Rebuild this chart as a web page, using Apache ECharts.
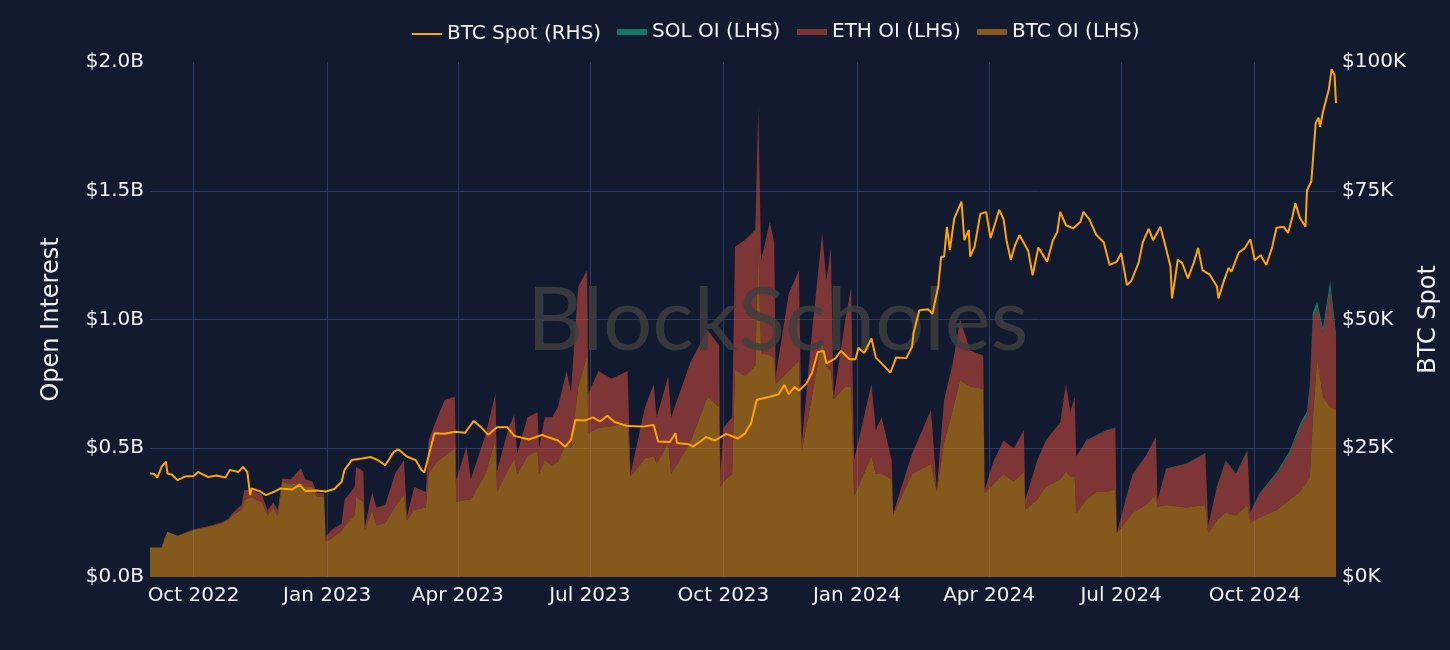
<!DOCTYPE html>
<html>
<head>
<meta charset="utf-8">
<script src="https://cdn.jsdelivr.net/npm/echarts@6/dist/echarts.min.js"></script>
<style>
html,body{margin:0;padding:0;background:#111a2e;}
#chart{width:1450px;height:650px;}
</style>
</head>
<body>
<div id="chart"></div>
<script>
// ---------- DATA ----------
const startDate = '2022-09-01';            // day 0 of the day-offset arrays
const xTickDates = ['2022-10-01','2023-01-01','2023-04-01','2023-07-01','2023-10-01','2024-01-01','2024-04-01','2024-07-01','2024-10-01'];
const xTickLabels = ['Oct 2022','Jan 2023','Apr 2023','Jul 2023','Oct 2023','Jan 2024','Apr 2024','Jul 2024','Oct 2024'];

// Open interest (USD billions), by day offset from startDate
const oiDays = [0,8,10,12,19,26,30,42,49,54,57,63,65,70,77,81,85,88,91,97,104,107,112,115,120,121,125,132,134,141,142,147,148,153,156,162,169,175,177,182,190,192,198,203,210,211,218,221,231,238,239,247,251,253,260,267,268,272,277,281,287,290,295,301,302,309,318,329,331,341,347,349,357,359,372,384,392,393,395,401,403,410,417,419,421,427,430,431,440,447,449,456,463,466,469,471,479,483,485,497,500,504,511,512,525,538,542,547,553,558,565,574,575,581,588,595,602,603,611,617,627,631,634,637,638,645,652,659,665,666,673,677,686,693,694,700,714,727,729,735,741,748,756,758,764,776,785,792,797,799,801,804,808,813,817];

const btcOI = [
 .115,.115,.150,.176,.160,.175,.183,.197,.208,.220,
 .241,.261,.299,.310,.290,.240,.270,.235,.370,.360,
 .365,.350,.350,.312,.310,.137,.150,.180,.195,.240,
 .312,.290,.183,.260,.200,.210,.276,.320,.220,.260,
 .270,.403,.450,.470,.500,.292,.300,.300,.400,.532,
 .330,.420,.460,.400,.470,.490,.400,.455,.430,.450,
 .520,.500,.740,.856,.560,.580,.585,.600,.390,.460,
 .470,.440,.520,.400,.520,.700,.660,.350,.370,.400,
 .804,.780,.820,1.280,.870,.860,.850,.750,.800,.840,
 .490,.700,.920,.820,.800,.690,.740,.740,.312,.470,
 .400,.400,.380,.240,.400,.440,.330,.520,.650,.765,
 .740,.730,.326,.360,.400,.370,.410,.260,.300,.350,
 .380,.410,.390,.390,.248,.300,.330,.330,.340,.170,
 .220,.250,.280,.320,.273,.280,.270,.280,.170,.220,
 .250,.240,.280,.210,.230,.260,.300,.330,.370,.390,
 .610,.850,.700,.660,.650];

const ethOI = [
 0,0,0,0,0,.001,.002,.003,.004,.006,
 .009,.019,.039,.030,.030,.020,.020,.025,.013,.020,
 .057,.030,.020,.013,.015,.020,.033,.028,.105,.110,
 .116,.120,.012,.070,.070,.070,.128,.134,.014,.090,
 .060,.129,.170,.217,.200,.085,.206,.080,.150,.182,
 .080,.160,.170,.080,.150,.150,.100,.165,.190,.210,
 .280,.220,.387,.334,.154,.220,.185,.200,.010,.200,
 .280,.180,.260,.220,.310,.260,.240,.050,.210,.220,
 .479,.530,.530,.546,.360,.520,.450,.030,.300,.350,
 .030,.250,.415,.330,.480,.010,.260,.387,.142,.280,
 .170,.220,.070,.008,.080,.210,.008,.167,.180,.235,
 .140,.130,.012,.090,.130,.130,.160,.040,.150,.180,
 .220,.340,.250,.310,.219,.230,.220,.240,.240,.000,
 .100,.150,.190,.225,.027,.140,.170,.200,.030,.130,
 .200,.160,.210,.040,.090,.140,.180,.250,.260,.340,
 .390,.200,.250,.460,.270];

const solOI = [
 0,0,0,0,0,0,0,0,0,0,0,0,0,0,0,0,0,0,0,0,0,0,0,0,0,
 0,0,0,0,0,0,0,0,0,0,0,0,0,0,0,0,0,0,0,0,0,0,0,0,0,
 0,0,0,0,0,0,0,0,0,0,0,0,0,0,0,0,0,0,0,0,0,0,0,0,0,
 0,0,0,0,0,0,0,0,0,0,0,0,0,0,0,0,0,0,0,0,0,0,0,0,0,
 0,0,0,0,0,0,0,0,0,0,0,0,0,0,0,0,0,0,0,0,0,0,0,0,0,
 .001,.001,.001,.001,.000,.001,.001,.001,.001,.000,
 .001,.001,.002,.001,.002,.002,.002,.003,.001,.003,
 .006,.008,.012,.014,.020,.025,.020,.018,.030,.024];

// BTC spot (USD thousands), by day offset from startDate
const spotDays = [0,3,5,8,11,12,15,19,24,30,33,40,46,52,55,61,64,67,69,70,76,80,85,90,98,103,107,115,121,127,132,134,139,146,152,157,162,168,171,177,183,187,189,193,196,203,210,217,223,228,233,239,246,251,261,270,276,281,286,290,293,300,305,310,315,320,329,339,347,350,358,362,363,371,374,380,383,389,397,405,410,411,414,418,427,433,437,440,444,447,452,456,460,464,466,472,476,482,486,488,492,497,500,506,510,514,521,525,526,530,536,539,543,545,547,549,551,554,559,561,564,565,568,572,576,579,582,585,588,590,593,596,599,605,608,612,618,622,625,627,631,636,641,643,647,652,657,661,666,669,673,676,681,684,688,691,696,699,703,704,706,708,711,715,719,722,725,730,735,736,740,743,745,750,754,758,761,765,769,773,776,781,784,787,789,792,796,797,800,803,805,806,808,812,814,816,817];
const btcSpot = [
 20.1,20.0,19.3,21.4,22.4,20.1,19.9,18.8,19.5,19.6,
 20.4,19.4,19.7,19.3,20.8,20.4,21.4,20.4,15.9,17.2,
 16.6,15.9,16.5,17.2,17.0,17.9,16.7,16.8,16.6,17.1,
 18.5,20.8,22.7,23.0,23.3,22.7,21.7,24.3,24.8,23.4,
 22.7,20.8,20.3,24.7,27.9,27.8,28.2,28.0,30.3,29.1,
 27.6,29.1,29.1,27.4,26.7,27.6,27.0,26.5,25.3,26.6,
 30.5,30.4,31.0,30.2,31.3,30.1,29.3,29.2,29.5,26.3,
 26.2,27.9,26.0,25.8,25.3,26.5,27.2,26.5,27.8,26.9,
 27.9,28.5,29.8,34.4,35.0,35.5,37.3,35.5,36.9,36.2,
 37.5,39.6,43.7,43.9,41.5,42.4,43.9,42.3,42.3,44.5,
 43.5,46.3,42.6,40.9,39.7,42.6,42.5,44.7,47.4,51.8,
 52.0,51.1,56.4,62.2,62.2,68.0,63.5,69.6,72.9,65.4,
 67.4,62.2,64.1,70.5,70.9,65.8,68.5,71.3,69.5,65.4,
 61.6,64.5,66.4,63.3,58.6,64.0,61.2,65.4,67.0,70.9,
 68.3,67.7,69.0,70.9,69.5,66.4,65.0,60.6,61.2,62.9,
 56.7,57.5,61.0,65.1,67.6,65.4,68.0,64.8,60.3,54.1,
 57.7,61.6,61.0,58.0,61.0,63.9,59.6,58.7,56.4,54.1,
 57.7,60.0,59.3,63.0,63.8,65.6,61.5,62.5,60.6,64.0,
 67.8,68.0,66.8,70.0,72.6,69.8,68.0,75.1,76.8,88.1,
 89.2,87.4,90.3,94.6,98.6,97.5,92.0];

// ---------- BUILD ----------
function dateMs(s) { const p = s.split('-').map(Number); return Date.UTC(p[0], p[1] - 1, p[2]); }
const DAY = 86400000;
const tickDays = xTickDates.map(s => Math.round((dateMs(s) - dateMs(startDate)) / DAY));
// OI rows are [value, day] so that the stacked dimension is the value (encode maps them to y / x)
const oiRows = vals => oiDays.map((d, i) => [vals[i], d]);
const spotRows = spotDays.map((d, i) => [d, btcSpot[i]]);

const FONT = 'DejaVu Sans';
const TXT = '#f2f2f2';
const GRID = '#2a3b5f';
const C_BTC = 'rgba(249,152,10,0.5)';
const C_ETH = 'rgba(233,80,62,0.5)';
const C_SOL = 'rgba(13,218,160,0.5)';
const C_SPOT = '#ffa500';

const legendText = {color: TXT, fontSize: 20, fontFamily: FONT};
function mkLegend(name, left, top, h) {
  return {data: [name], left: left, top: top, padding: 0, itemWidth: 30, itemHeight: h,
          icon: 'rect', textStyle: legendText, selectedMode: false};
}

const areaSeries = (name, vals, color) => ({
  name: name, type: 'line', stack: 'oi', yAxisIndex: 0, z: 2,
  data: oiRows(vals), encode: {x: 1, y: 0},
  showSymbol: false, symbol: 'none',
  lineStyle: {width: 0}, itemStyle: {color: color},
  areaStyle: {color: color, opacity: 1, origin: 'start'}
});

const chart = echarts.init(document.getElementById('chart'), null, {renderer: 'canvas'});
chart.setOption({
  backgroundColor: '#111a2e',
  animation: false,
  textStyle: {fontFamily: FONT},
  grid: {left: 150, right: 114, top: 62, bottom: 73, containLabel: false},
  legend: [
    mkLegend('BTC Spot (RHS)', 412, 24, 2),
    mkLegend('SOL OI (LHS)', 617, 22, 6),
    mkLegend('ETH OI (LHS)', 797, 22, 6),
    mkLegend('BTC OI (LHS)', 977, 22, 6)
  ],
  xAxis: {
    type: 'value',
    min: oiDays[0],
    max: oiDays[oiDays.length - 1],
    axisLine: {show: false},
    axisTick: {show: false, customValues: tickDays},
    axisLabel: {
      customValues: tickDays,
      color: TXT, fontSize: 20, fontFamily: FONT, margin: 9,
      formatter: v => { const i = tickDays.indexOf(v); return i >= 0 ? xTickLabels[i] : ''; }
    },
    splitLine: {show: true, lineStyle: {color: GRID, width: 1}}
  },
  yAxis: [
    {
      type: 'value', position: 'left', min: 0, max: 2, interval: 0.5,
      axisLine: {show: false}, axisTick: {show: false},
      axisLabel: {color: TXT, fontSize: 20, fontFamily: FONT, margin: 6,
        formatter: v => '$' + v.toFixed(1) + 'B'},
      splitLine: {show: true, showMinLine: false, showMaxLine: false, lineStyle: {color: GRID, width: 1}},
      name: 'Open Interest', nameLocation: 'middle', nameGap: 86, nameRotate: 90,
      nameTextStyle: {color: TXT, fontSize: 24, fontFamily: FONT}
    },
    {
      type: 'value', position: 'right', min: 0, max: 100, interval: 25,
      axisLine: {show: false}, axisTick: {show: false},
      axisLabel: {color: TXT, fontSize: 20, fontFamily: FONT, margin: 6,
        formatter: v => '$' + v + 'K'},
      splitLine: {show: false},
      name: 'BTC Spot', nameLocation: 'middle', nameGap: 78, nameRotate: 90,
      nameTextStyle: {color: TXT, fontSize: 24, fontFamily: FONT}
    }
  ],
  graphic: [{
    type: 'text', left: 527, top: 278, z: 5, silent: true,
    style: {text: 'BlockScholes', font: '87px Lato', fill: 'rgba(62,62,62,0.85)'}
  }],
  series: [
    areaSeries('BTC OI (LHS)', btcOI, C_BTC),
    areaSeries('ETH OI (LHS)', ethOI, C_ETH),
    areaSeries('SOL OI (LHS)', solOI, C_SOL),
    {name: 'BTC Spot (RHS)', type: 'line', yAxisIndex: 1, z: 10,
     data: spotRows, showSymbol: false, symbol: 'none',
     lineStyle: {width: 2, color: C_SPOT}, itemStyle: {color: C_SPOT}}
  ]
});
</script>
</body>
</html>
